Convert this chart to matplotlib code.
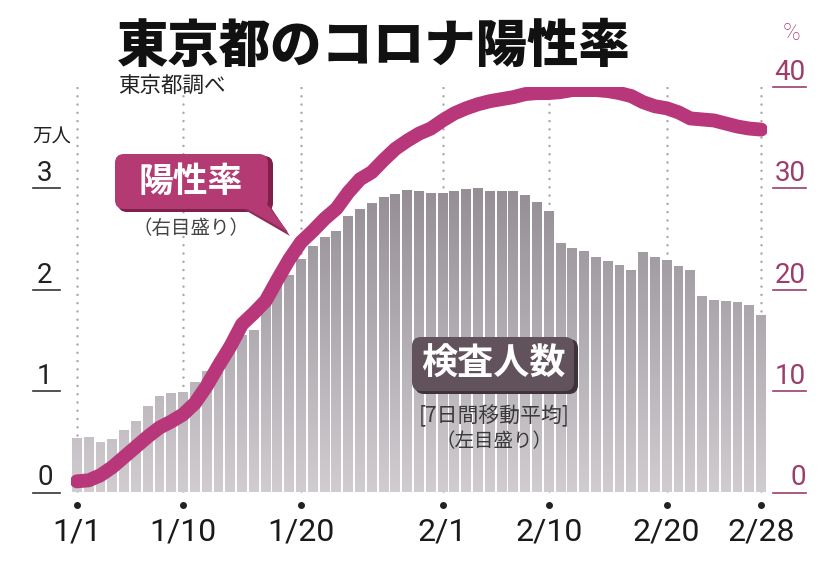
import matplotlib
matplotlib.use('Agg')
import matplotlib.pyplot as plt
import numpy as np
from matplotlib import font_manager
from matplotlib.path import Path
from matplotlib.patches import FancyBboxPatch, Polygon
from matplotlib.colors import LinearSegmentedColormap
from matplotlib.transforms import Affine2D

# --- data ---
days = list(range(59))  # 0 = 1/1 ... 58 = 2/28
tests = [0.54, 0.55, 0.50, 0.53, 0.62, 0.71, 0.85, 0.95, 0.98, 0.99,
         1.09, 1.20, 1.32, 1.44, 1.55, 1.60, 1.85, 2.04, 2.15, 2.30,
         2.43, 2.52, 2.58, 2.73, 2.80, 2.86, 2.91, 2.94, 2.98, 2.97,
         2.95, 2.95, 2.97, 2.99, 3.00, 2.97, 2.97, 2.97, 2.93, 2.87,
         2.78, 2.46, 2.41, 2.38, 2.32, 2.28, 2.24, 2.19, 2.37, 2.32,
         2.29, 2.23, 2.19, 1.94, 1.90, 1.89, 1.88, 1.85, 1.75]  # 万人
positivity = [1.1, 1.2, 1.7, 2.5, 3.5, 4.5, 5.5, 6.4, 7.0, 7.7,
              8.8, 10.5, 12.5, 14.4, 16.6, 17.7, 18.9, 21.0, 23.0, 24.7,
              25.8, 27.0, 28.0, 29.6, 30.9, 31.6, 32.8, 33.9, 34.7, 35.4,
              35.9, 36.7, 37.4, 37.9, 38.3, 38.6, 38.8, 39.0, 39.3, 39.4,
              39.4, 39.5, 39.7, 39.7, 39.7, 39.6, 39.4, 39.1, 38.5, 38.1,
              37.9, 37.5, 36.9, 36.8, 36.7, 36.4, 36.1, 35.9, 35.8]  # %
tick_days = [0, 9, 19, 31, 40, 50, 58]
tick_labels = ['1/1', '1/10', '1/20', '2/1', '2/10', '2/20', '2/28']
left_ticks = [0, 1, 2, 3]
right_ticks = [0, 10, 20, 30, 40]

# --- fonts ---
names = {f.name for f in font_manager.fontManager.ttflist}
JP = 'Noto Sans CJK JP'
NUM = 'Liberation Sans Narrow' if 'Liberation Sans Narrow' in names else 'Roboto'
plt.rcParams['font.family'] = [JP, 'DejaVu Sans']

W, H = 840, 572
fig = plt.figure(figsize=(W / 100, H / 100), dpi=100)
px = Affine2D().scale(1 / W, 1 / H) + fig.transFigure


def fy(y):
    return H - y


y0, y4 = 492.5, 87.0
ax = fig.add_axes([71 / W, (H - y0) / H, 696 / W, (y0 - y4) / H])
ax.set_xlim(-0.5, 58.5)
ax.set_ylim(0, 4.0)
ax.axis('off')

# dotted date guides
ax.vlines(tick_days, 0, 4.0, colors='#a8a8a8', linewidth=1.8,
          linestyles=[(0, (0.01, 3.3))], capstyle='round', zorder=1)

# bars with vertical gradient
rects = ax.bar(days, tests, width=0.84, color='none', edgecolor='none')
clip = Path.make_compound_path(*[r.get_path().transformed(r.get_patch_transform())
                                 for r in rects])
cmap = LinearSegmentedColormap.from_list('g', ['#d0ccd0', '#938d93'])
grad = np.linspace(0, 1, 256).reshape(-1, 1)
im = ax.imshow(grad, extent=[-0.5, 58.5, 0, 3.1], origin='lower', aspect='auto',
               cmap=cmap, zorder=2)
im.set_clip_path(clip, transform=ax.transData)
ax.set_xlim(-0.5, 58.5)
ax.set_ylim(0, 4.0)

# positivity line
ax2 = ax.twinx()
ax2.set_ylim(0, 40)
ax2.axis('off')
ax2.plot(days, positivity, color='#b8377a', linewidth=10,
         solid_capstyle='round', solid_joinstyle='round', zorder=5)

# x tick dots and labels
ax.plot(tick_days, [-0.12] * len(tick_days), 'o', ms=4, color='#222222', clip_on=False)
for d, lab in zip(tick_days, tick_labels):
    ax.text(d, -0.39, lab, ha='center', va='center', fontsize=23,
            family=NUM, color='#1a1a1a', clip_on=False)

# left scale
yt = ax.get_yaxis_transform()
for v in left_ticks:
    ax.text(-0.0374, v + 0.07, str(v), transform=yt, ha='center', va='baseline',
            fontsize=20, family=NUM, color='#222222')
    ax.plot([-0.0546, -0.0158], [v, v], transform=yt, color='#333333',
            lw=1.2, clip_on=False)
fig.text(52, fy(137), '万人', transform=px, ha='center', va='center',
         fontsize=14, color='#222222')

# right scale
for v in right_ticks:
    ax.text(1.056, v / 10 + 0.07, str(v), transform=yt, ha='right', va='baseline',
            fontsize=20, family=NUM, color='#9c3d6c')
    ax.plot([1.0086, 1.056], [v / 10, v / 10], transform=yt, color='#9c3d6c',
            lw=1.2, clip_on=False)
fig.text(792, fy(34), '%', transform=px, ha='center', va='center',
         fontsize=17, family=NUM, fontweight='light', color='#9c3d6c')

# title
fig.text(117, fy(47), '東京都のコロナ陽性率', transform=px, ha='left', va='center',
         fontsize=37, fontweight='black', color='#111111')
fig.text(118, fy(86), '東京都調べ', transform=px, ha='left', va='center',
         fontsize=15.5, color='#222222')

# 陽性率 label
shadow = FancyBboxPatch((118, fy(212)), 155, 56, boxstyle='round,pad=0,rounding_size=9',
                        transform=px, facecolor='#7e1f4c', edgecolor='none', zorder=6)
fig.add_artist(shadow)
fig.add_artist(Polygon([(238, fy(206)), (270, fy(206)), (290, fy(236))], closed=True,
                       transform=px, facecolor='#8e2a5a', edgecolor='none', zorder=6))
box = FancyBboxPatch((115, fy(209)), 153, 55, boxstyle='round,pad=0,rounding_size=9',
                     transform=px, facecolor='#b33a72', edgecolor='none', zorder=7)
fig.add_artist(box)
fig.add_artist(Polygon([(236, fy(203)), (266, fy(203)), (288, fy(232))], closed=True,
                       transform=px, facecolor='#b33a72', edgecolor='none', zorder=7))
fig.text(191, fy(181), '陽性率', transform=px, ha='center', va='center',
         fontsize=25, fontweight='bold', color='white', zorder=8)
fig.text(191, fy(228), '（右目盛り）', transform=px, ha='center', va='center',
         fontsize=14, color='#444444')

# 検査人数 label
fig.add_artist(FancyBboxPatch((415, fy(394)), 163, 55, boxstyle='round,pad=0,rounding_size=9',
                              transform=px, facecolor='#3f3339', edgecolor='none', zorder=6))
fig.add_artist(FancyBboxPatch((412, fy(391)), 162, 54, boxstyle='round,pad=0,rounding_size=9',
                              transform=px, facecolor='#62525b', edgecolor='none', zorder=7))
fig.text(493, fy(364), '検査人数', transform=px, ha='center', va='center',
         fontsize=26, fontweight='bold', color='white', zorder=8)
fig.text(494, fy(416), '[7日間移動平均]', transform=px, ha='center', va='center',
         fontsize=15, color='#3a3a3a', zorder=8)
fig.text(494, fy(442), '（左目盛り）', transform=px, ha='center', va='center',
         fontsize=14, color='#3a3a3a', zorder=8)

fig.savefig('out.png', dpi=100, facecolor='white')
